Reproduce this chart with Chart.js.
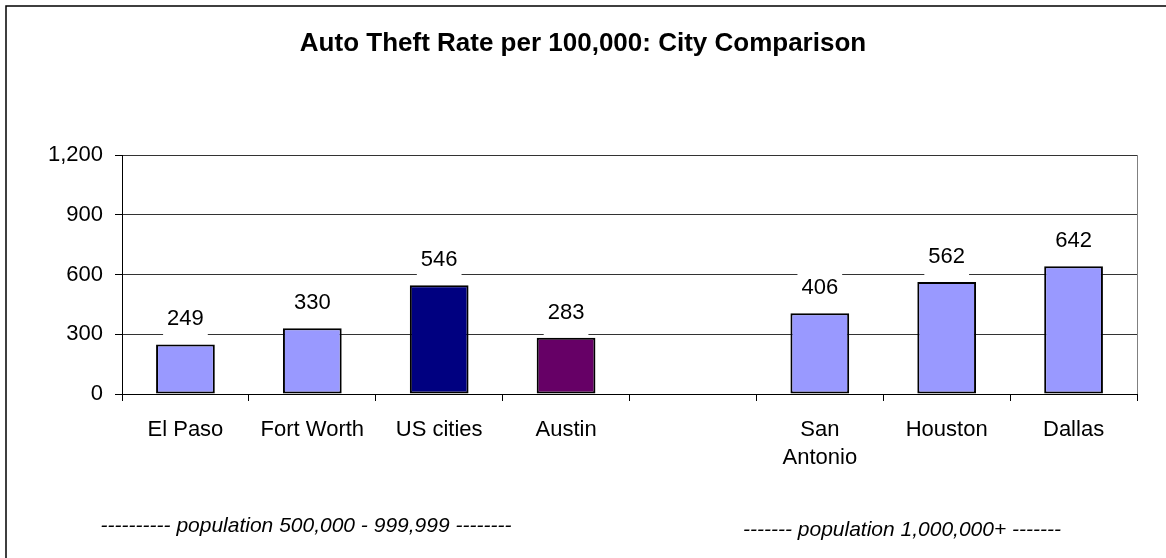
<!DOCTYPE html>
<html>
<head>
<meta charset="utf-8">
<script src="https://cdn.jsdelivr.net/npm/chart.js@4"></script>
<style>
  html, body { margin: 0; padding: 0; background: #fff; }
  #wrap { width: 1166px; height: 558px; position: relative; }
</style>
</head>
<body>
<div id="wrap"><canvas id="chart"></canvas></div>
<script>
const cities = ['El Paso', 'Fort Worth', 'US cities', 'Austin', '', ['San', 'Antonio'], 'Houston', 'Dallas'];
const theftRates = [249, 330, 546, 283, null, 406, 562, 642];
const barColors = ['#9999FF', '#9999FF', '#000080', '#660066', '#9999FF', '#9999FF', '#9999FF', '#9999FF'];
const yTicks = [0, 300, 600, 900, 1200];

const chartTitle = 'Auto Theft Rate per 100,000: City Comparison';
const groupNotes = ['---------- population 500,000 - 999,999 --------', '------- population 1,000,000+ -------'];

const FONT = "'Liberation Sans', Arial, sans-serif";

// value labels on white boxes, like the spreadsheet ones
const valueLabels = {
  id: 'valueLabels',
  afterDatasetsDraw(chart) {
    const ctx = chart.ctx;
    const meta = chart.getDatasetMeta(0);
    ctx.save();
    ctx.font = '22px ' + FONT;
    ctx.textAlign = 'center';
    ctx.textBaseline = 'alphabetic';
    meta.data.forEach((bar, i) => {
      const v = theftRates[i];
      if (v == null) return;
      const txt = v.toLocaleString('en-US');
      const w = ctx.measureText(txt).width;
      const base = bar.y - 19;
      ctx.fillStyle = '#fff';
      ctx.fillRect(bar.x - w / 2 - 4, base - 21, w + 8, 38);
      ctx.fillStyle = '#000';
      ctx.fillText(txt, bar.x, base);
    });
    ctx.restore();
  }
};

// frame, right plot edge and the two group notes
const extras = {
  id: 'extras',
  afterDraw(chart) {
    const ctx = chart.ctx;
    const a = chart.chartArea;
    ctx.save();
    ctx.strokeStyle = '#000';
    ctx.lineWidth = 1.5;
    ctx.beginPath();
    ctx.moveTo(6, 558);
    ctx.lineTo(6, 6);
    ctx.lineTo(1166, 6);
    ctx.stroke();

    ctx.strokeStyle = '#808080';
    ctx.lineWidth = 1;
    ctx.beginPath();
    ctx.moveTo(a.right + 0.5, a.top);
    ctx.lineTo(a.right + 0.5, a.bottom);
    ctx.stroke();

    ctx.fillStyle = '#000';
    ctx.font = 'italic 21px ' + FONT;
    ctx.textAlign = 'center';
    ctx.textBaseline = 'middle';
    ctx.fillText(groupNotes[0], 306, 526);
    ctx.fillText(groupNotes[1], 902, 530);
    ctx.restore();
  }
};

const ctx = document.getElementById('chart').getContext('2d');

new Chart(ctx, {
  type: 'bar',
  data: {
    labels: cities,
    datasets: [
      {
        data: theftRates,
        backgroundColor: barColors,
        borderColor: '#000',
        borderWidth: 2,
        borderSkipped: false,
        barPercentage: 0.463,
        categoryPercentage: 1,
      },
    ],
  },
  options: {
    responsive: true,
    maintainAspectRatio: false,
    animation: false,
    events: [],
    layout: { padding: { left: 29, right: 29, top: 0, bottom: 0 } },
    plugins: {
      legend: { display: false },
      tooltip: { enabled: false },
      title: {
        display: true,
        text: chartTitle,
        color: '#000',
        font: { family: FONT, size: 26, weight: 'bold', lineHeight: 1.2 },
        padding: { top: 28.4, bottom: 95.4 },
      },
    },
    scales: {
      x: {
        offset: true,
        grid: {
          display: true,
          offset: true,
          drawOnChartArea: false,
          tickLength: 7,
          tickColor: '#000',
        },
        border: { display: true, color: '#000', width: 1 },
        ticks: {
          color: '#000',
          font: { family: FONT, size: 22, lineHeight: 1.27 },
          padding: 15,
          maxRotation: 0,
          autoSkip: false,
        },
        afterFit(scale) { scale.height = 164; },
      },
      y: {
        min: 0,
        max: 1200,
        afterBuildTicks(scale) { scale.ticks = yTicks.map(v => ({ value: v })); },
        grid: { color: '#333', tickLength: 7, tickColor: '#000' },
        border: { display: true, color: '#000', width: 1 },
        ticks: {
          color: '#000',
          font: { family: FONT, size: 22 },
          padding: 12,
          callback: v => v.toLocaleString('en-US'),
        },
        afterFit(scale) { scale.width = 93; },
      },
    },
  },
  plugins: [valueLabels, extras],
});
</script>
</body>
</html>
